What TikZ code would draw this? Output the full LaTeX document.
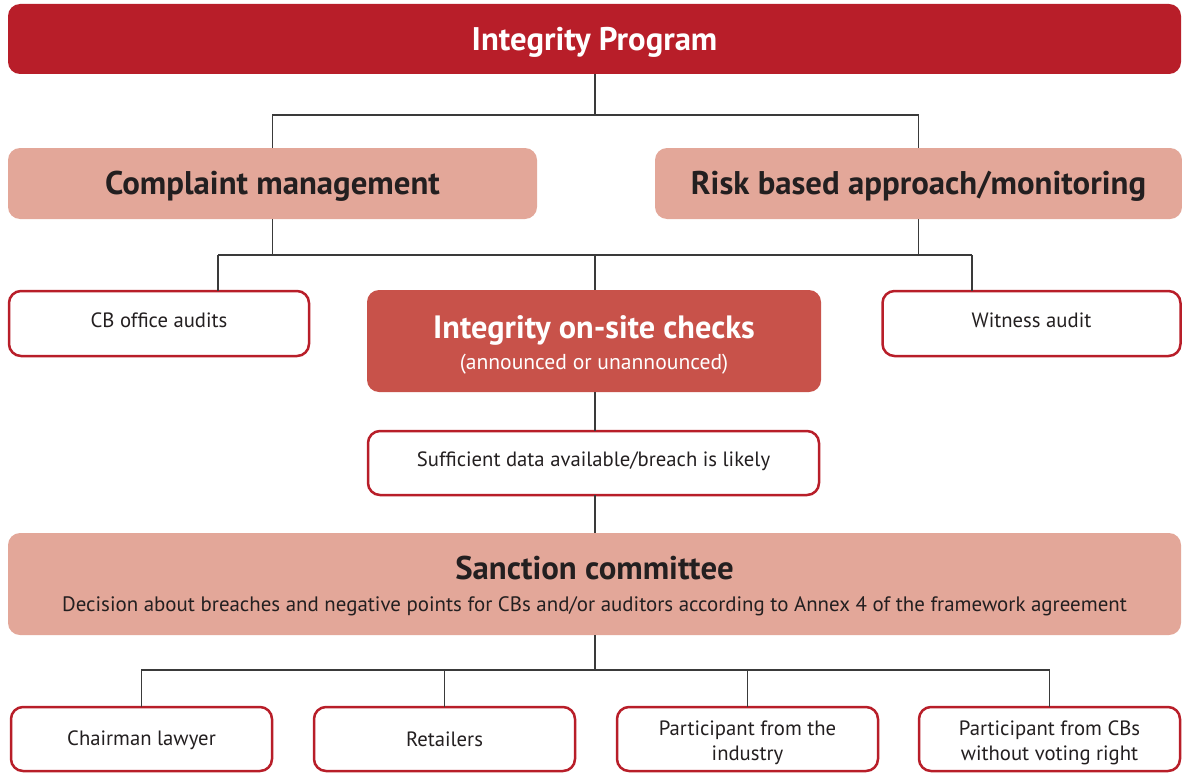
\documentclass[tikz,border=0pt]{standalone}
\usepackage{fontspec}
\setmainfont{PT Sans}
\definecolor{darkred}{HTML}{B81E29}
\definecolor{pinkfill}{HTML}{E3A799}
\definecolor{midred}{HTML}{C8524A}
\definecolor{txt}{HTML}{231F20}
\definecolor{linec}{HTML}{3A3A3A}
\newcommand\lowr[2]{\raisebox{-#1}[\height][\depth]{#2}}
\tikzset{
  every node/.style={inner sep=0pt, outer sep=0pt, align=center, text=txt},
  topbox/.style={rectangle, rounded corners=12pt, fill=darkred, text=white, font=\bfseries\fontsize{32.7}{38}\selectfont},
  pinkbox/.style={rectangle, rounded corners=12pt, fill=pinkfill, font=\bfseries\fontsize{32.8}{38}\selectfont},
  sancbox/.style={rectangle, rounded corners=12pt, fill=pinkfill, font=\fontsize{20.9}{26}\selectfont},
  midbox/.style={rectangle, rounded corners=12pt, fill=midred, text=white, font=\fontsize{21.6}{26}\selectfont},
  whitebox/.style={rectangle, rounded corners=12pt, fill=white, draw=darkred, line width=2.5pt, font=\fontsize{20.7}{25}\selectfont},
  conn/.style={draw=linec, line width=1.1pt}
}
\begin{document}
\begin{tikzpicture}[x=1pt,y=-1pt]
\useasboundingbox (0,0) rectangle (1182,773);
\node[topbox, minimum width=1173pt, minimum height=70pt] (top) at (594.5,39) {\lowr{3pt}{Integrity Program}};
\node[pinkbox, minimum width=529pt, minimum height=71pt] (comp) at (272.5,183.5) {\lowr{3pt}{Complaint management}};
\node[pinkbox, minimum width=527pt, minimum height=71pt] (risk) at (918.5,183.5) {\lowr{3pt}{Risk based approach/monitoring}};
\node[whitebox, minimum width=300pt, minimum height=65pt] (cb) at (159,323.5) {\lowr{-3pt}{CB office audits}};
\node[midbox, minimum width=454pt, minimum height=102pt] (chk) at (594,341) {\lowr{5pt}{\bfseries\fontsize{32.3}{38}\selectfont Integrity on-site checks}\\[8pt]\lowr{2pt}{(announced or unannounced)}};
\node[whitebox, minimum width=298pt, minimum height=65pt] (wit) at (1031.5,323.5) {\lowr{-3pt}{Witness audit}};
\node[whitebox, minimum width=451pt, minimum height=64pt] (suf) at (593.5,463) {\lowr{-2pt}{Sufficient data available/breach is likely}};
\node[sancbox, minimum width=1173pt, minimum height=102pt] (sanc) at (594.5,584) {\lowr{4pt}{\bfseries\fontsize{32.8}{38}\selectfont Sanction committee}\\[10pt]Decision about breaches and negative points for CBs and/or auditors according to Annex 4 of the framework agreement};
\node[whitebox, minimum width=261pt, minimum height=64pt] (b1) at (141.5,739) {\lowr{1pt}{Chairman lawyer}};
\node[whitebox, minimum width=261pt, minimum height=64pt] (b2) at (444.5,739) {Retailers};
\node[whitebox, minimum width=261pt, minimum height=64pt] (b3) at (747.5,739) {\lowr{4pt}{Participant from the}\\\lowr{4pt}{industry}};
\node[whitebox, minimum width=261pt, minimum height=64pt] (b4) at (1049.5,739) {\lowr{4pt}{Participant from CBs}\\\lowr{4pt}{without voting right}};
% level 1
\coordinate (j0) at (595,115);
\draw[conn] (top.south -| j0) -- (j0);
\draw[conn] (comp.north) |- (j0) -| (risk.north);
% level 2
\coordinate (ja) at (218,255);
\coordinate (jb) at (595,255);
\coordinate (jc) at (972,255);
\draw[conn] (comp.south) -- (comp.south |- ja);
\draw[conn] (risk.south) -- (risk.south |- jc);
\draw[conn] (ja) -- (jc);
\draw[conn] (ja) -- (ja |- cb.north);
\draw[conn] (jb) -- (jb |- chk.north);
\draw[conn] (jc) -- (jc |- wit.north);
% chain
\draw[conn] (chk.south -| jb) -- (suf.north -| jb);
\draw[conn] (suf.south -| jb) -- (sanc.north -| jb);
% level 3
\coordinate (jd) at (595,670);
\draw[conn] (sanc.south -| jd) -- (jd);
\draw[conn] (b1.north) |- (jd) -| (b4.north);
\draw[conn] (b2.north) -- (b2.north |- jd);
\draw[conn] (b3.north) -- (b3.north |- jd);
\end{tikzpicture}
\end{document}
